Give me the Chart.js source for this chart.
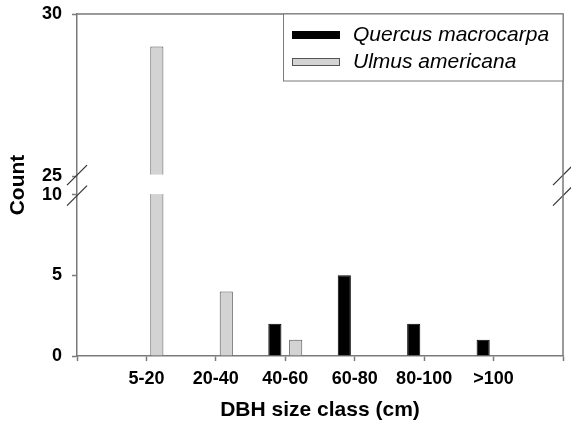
<!DOCTYPE html>
<html>
<head>
<meta charset="utf-8">
<script src="https://cdn.jsdelivr.net/npm/chart.js@4.4.1/dist/chart.umd.min.js"></script>
<style>
  html, body { margin: 0; padding: 0; background: #fff; }
  #wrap { width: 571px; height: 421px; }
</style>
</head>
<body>
<div id="wrap"><canvas id="chart"></canvas></div>
<script>
// ---------------------
// Data
// ---------------------
const sizeClasses = ['5-20', '20-40', '40-60', '60-80', '80-100', '>100'];
const quercus = [0, 0, 2, 5, 2, 1];
const ulmus = [29, 4, 1, 0, 0, 0];
const yTicks = [0, 5, 10, 25, 30];
const breakFrom = 10;
const breakTo = 25;

// share of the plot height given to the lower and upper parts of the axis
const lowFrac = 0.472;
const highFrac = 0.474;

const FONT = '"Liberation Sans", Arial, sans-serif';
const AXIS_GREY = '#7a7a7a';

// ---------------------
// Broken y axis: 0-10, gap, 25-30
// ---------------------
class BrokenScale extends Chart.LinearScale {
  buildTicks() {
    return yTicks.map(v => ({ value: v }));
  }
  toDecimal(v) {
    if (v <= breakFrom) return (v - this.min) / (breakFrom - this.min) * lowFrac;
    if (v >= breakTo) return 1 - highFrac + (v - breakTo) / (this.max - breakTo) * highFrac;
    return lowFrac + (v - breakFrom) / (breakTo - breakFrom) * (1 - lowFrac - highFrac);
  }
  getPixelForValue(v) {
    return this.getPixelForDecimal(this.toDecimal(v));
  }
  getValueForPixel(p) {
    const d = this.getDecimalForPixel(p);
    if (d <= lowFrac) return this.min + d / lowFrac * (breakFrom - this.min);
    if (d >= 1 - highFrac) return breakTo + (d - 1 + highFrac) / highFrac * (this.max - breakTo);
    return breakFrom + (d - lowFrac) / (1 - lowFrac - highFrac) * (breakTo - breakFrom);
  }
}
BrokenScale.id = 'broken';
BrokenScale.defaults = {};
Chart.register(BrokenScale);

// white gap through the bars + break marks on both side lines
const axisBreak = {
  id: 'axisBreak',
  afterDatasetsDraw(chart) {
    const { ctx, chartArea: a } = chart;
    const y = chart.scales.y;
    const yHi = y.getPixelForValue(breakTo);
    const yLo = y.getPixelForValue(breakFrom);
    ctx.save();
    ctx.fillStyle = '#fff';
    ctx.fillRect(a.left + 1.5, yHi - 1.5, a.right - a.left - 3, yLo - yHi + 1);
    ctx.strokeStyle = '#333';
    ctx.lineWidth = 1.2;
    [a.left, a.right].forEach(x => {
      [yHi - 1, yLo + 1].forEach(cy => {
        ctx.beginPath();
        ctx.moveTo(x - 10, cy + 10);
        ctx.lineTo(x + 10, cy - 10);
        ctx.stroke();
      });
    });
    ctx.restore();
  },
  afterDraw(chart) {
    const { ctx, chartArea: a } = chart;
    ctx.save();
    // top and right frame lines
    ctx.strokeStyle = AXIS_GREY;
    ctx.lineWidth = 1.5;
    ctx.beginPath();
    ctx.moveTo(a.left, a.top);
    ctx.lineTo(a.right, a.top);
    ctx.lineTo(a.right, a.bottom);
    ctx.stroke();

    // legend box in the upper right corner
    const bx = a.left + 206, by = a.top, bw = a.right - bx, bh = 67;
    ctx.fillStyle = '#fff';
    ctx.fillRect(bx, by, bw, bh);
    ctx.strokeStyle = AXIS_GREY;
    ctx.lineWidth = 1;
    ctx.strokeRect(bx + 0.5, by, bw - 0.5, bh);
    ctx.font = 'italic 21px ' + FONT;
    ctx.textBaseline = 'middle';
    chart.data.datasets.forEach((ds, i) => {
      const cy = by + 21 + i * 27;
      ctx.fillStyle = ds.backgroundColor;
      ctx.fillRect(bx + 9, cy - 4, 48, 8);
      ctx.strokeStyle = ds.borderColor;
      ctx.strokeRect(bx + 9.5, cy - 3.5, 47, 7);
      ctx.fillStyle = '#000';
      ctx.fillText(ds.label, bx + 70, cy);
    });
    ctx.restore();
  }
};

// ---------------------
// Chart
// ---------------------
const labels = ['', ...sizeClasses, ''];

new Chart(document.getElementById('chart'), {
  type: 'bar',
  data: {
    labels: labels,
    datasets: [
      {
        label: 'Quercus macrocarpa',
        data: [null, ...quercus, null],
        backgroundColor: '#000000',
        borderColor: '#000000',
        borderWidth: 1
      },
      {
        label: 'Ulmus americana',
        data: [null, ...ulmus, null],
        backgroundColor: '#d3d3d3',
        borderColor: '#555555',
        borderWidth: 1
      }
    ]
  },
  options: {
    responsive: true,
    maintainAspectRatio: false,
    animation: false,
    barPercentage: 0.63,
    categoryPercentage: 0.6,
    layout: { padding: { top: 14, right: 8, left: 0, bottom: 0 } },
    plugins: {
      legend: { display: false },
      tooltip: { enabled: false }
    },
    scales: {
      x: {
        offset: false,
        grid: { offset: false, drawOnChartArea: false, tickLength: 5, tickColor: AXIS_GREY, tickWidth: 1.5 },
        border: { color: AXIS_GREY, width: 1.5 },
        ticks: { color: '#000', padding: 7, maxRotation: 0, autoSkip: false, font: { family: FONT, size: 18, weight: 'bold' } },
        title: {
          display: true,
          text: 'DBH size class (cm)',
          color: '#000',
          padding: { top: 0, bottom: 0 },
          font: { family: FONT, size: 21, weight: 'bold', lineHeight: 1.05 }
        },
        afterFit: s => { s.height = 65; }
      },
      y: {
        type: 'broken',
        min: 0,
        max: 30,
        grid: { drawOnChartArea: false, tickLength: 5, tickColor: AXIS_GREY, tickWidth: 1.5 },
        border: { color: AXIS_GREY, width: 1.5 },
        ticks: { color: '#000', padding: 10, font: { family: FONT, size: 18, weight: 'bold' } },
        title: {
          display: true,
          text: 'Count',
          color: '#000',
          padding: { top: 7, bottom: 0 },
          font: { family: FONT, size: 21, weight: 'bold', lineHeight: 1.05 }
        },
        afterFit: s => { s.width = 77; s.paddingTop = 0; s.paddingBottom = 0; }
      }
    }
  },
  plugins: [axisBreak]
});
</script>
</body>
</html>
